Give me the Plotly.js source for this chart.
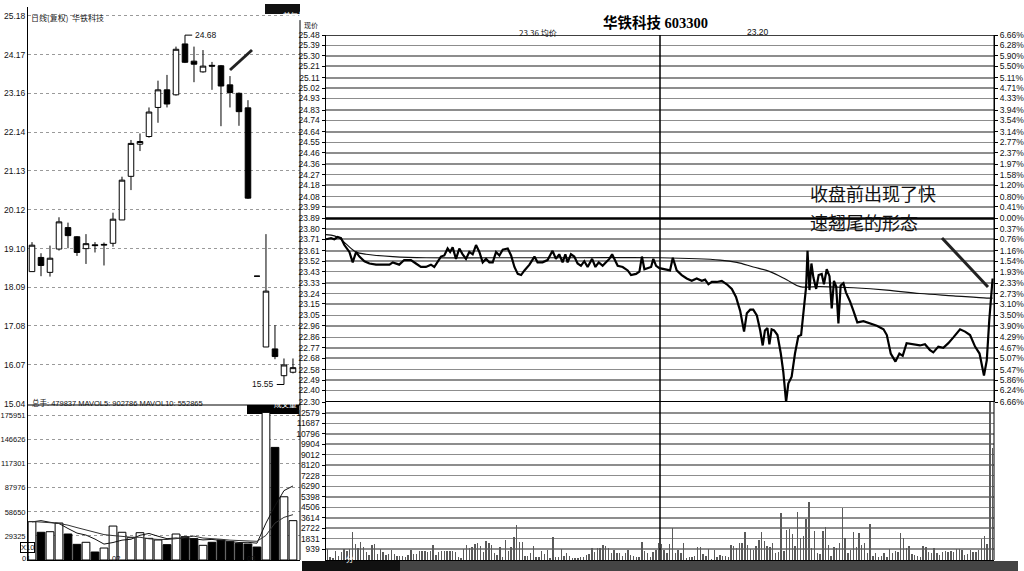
<!DOCTYPE html>
<html><head><meta charset="utf-8">
<script src="https://cdn.plot.ly/plotly-3.0.1.min.js"></script>
<style>html,body{margin:0;padding:0;background:#fff;}#chart{width:1024px;height:571px;}</style>
</head><body><div id="chart"></div>
<script>
// ---------------- Daily candles (left) ----------------
const candleOpen  = [18.50,18.87,18.48,19.09,19.65,19.41,19.10,19.20,19.19,19.24,19.85,20.99,21.83,22.03,22.79,23.25,23.12,24.45,24.00,23.72,23.89,23.88,23.38,23.16,22.78,18.38,16.53,16.48,15.78,15.87];
const candleHigh  = [19.27,18.98,19.18,19.92,19.78,19.43,19.48,19.27,19.26,20.04,20.98,21.94,22.11,22.79,23.49,23.64,24.38,24.68,24.38,24.29,23.98,23.90,23.61,23.18,22.98,18.38,19.48,17.10,16.23,16.23];
const candleLow   = [18.50,18.38,18.37,19.05,19.11,18.91,18.70,19.00,18.66,19.15,19.85,20.63,21.65,22.00,22.39,22.79,23.10,23.95,23.45,23.70,23.25,22.30,22.79,22.31,20.40,18.38,16.53,16.21,15.55,15.84];
const candleClose = [19.19,18.66,18.85,19.80,19.44,19.00,19.23,19.18,19.21,19.87,20.89,21.85,21.90,22.67,23.25,22.88,24.31,23.97,23.92,23.87,23.87,23.35,23.18,22.68,20.42,18.38,17.99,16.28,16.06,15.99];
const candleVol   = [46700,33800,34500,45100,31700,19100,21600,9750,14600,41400,33800,27200,33300,26400,24400,18700,31700,28400,26000,17900,21600,24400,22300,20300,19500,15800,180000,137300,77100,47984];
const mavol5      = [46500,48000,46000,44500,38400,32800,30400,25500,19400,21300,24200,25300,30100,32400,29000,26000,26900,25800,25800,24500,25100,23700,22400,21300,21600,20500,45000,66000,84600,90279];
const mavol10     = [47000,46500,45500,44500,42500,39500,36500,33500,31000,29800,28500,27800,27700,25800,25100,25000,26000,27900,29100,26800,25600,25300,24200,23600,23100,22800,30000,45000,52000,55287];
const dayPriceTicks = [15.04,16.07,17.08,18.09,19.10,20.12,21.13,22.14,23.16,24.17,25.18];
const dayVolTicks   = [29325,58650,87976,117301,146626,175951];
const monthLabels   = ['01','02','03'];
const monthStartIdx = [0,10,25];

// ---------------- Intraday (right) ----------------
const prevClose = 23.89;
const priceTicks = [22.30,22.40,22.49,22.58,22.68,22.77,22.86,22.96,23.05,23.15,23.24,23.33,23.43,23.52,23.61,23.71,23.80,23.89,23.99,24.08,24.18,24.27,24.36,24.46,24.55,24.64,24.74,24.83,24.93,25.02,25.11,25.21,25.30,25.39,25.48];
const pctTicks = ['6.66%','6.24%','5.86%','5.47%','5.07%','4.67%','4.29%','3.90%','3.50%','3.10%','2.73%','2.33%','1.93%','1.54%','1.16%','0.76%','0.37%','0.00%','0.41%','0.80%','1.20%','1.58%','1.97%','2.37%','2.77%','3.14%','3.54%','3.94%','4.33%','4.71%','5.11%','5.50%','5.90%','6.28%','6.66%'];
const minVolTicks = [939,1831,2722,3614,4506,5398,6290,7228,8120,9012,9904,10796,11687,12579];

const intradayMin = [0,1.8,3,4.2,5.4,6.6,8.4,9.6,10.8,12,13.8,15.6,18,20.4,22.8,24,26.3,28.1,30.5,32.3,34.1,35.9,37.7,38.9,40.1,41.3,42.5,43.7,44.6,45.5,46.7,47.9,49.1,50.3,51.5,52.7,53.9,55.1,56.3,57.5,58.7,59.9,61.1,62.3,63.5,65.3,66.5,67.7,68.9,70.1,71.3,73.1,74.9,76,77.8,79.6,81.4,82.6,83.8,85,86,86.8,88,89.2,90.4,91.6,92.8,94,95.6,96.8,98,99.4,100.6,101.8,102.8,103.6,104.8,106.6,108.4,109.6,111.4,112.6,113.5,114.4,115.6,116.8,117.6,118.6,119.8,
121.8,123.6,124.6,126,127.8,129.6,131.4,133.2,135,136.2,137.4,138.6,140.4,142.2,144,145.8,147.3,148.8,150.2,151.2,152.4,153.5,154.8,156,156.9,157.7,158.6,159.3,160.1,161,162.2,163.4,164.3,165.3,166.1,167.3,168.5,169.7,170.7,171.5,172.5,173,173.7,174.4,175.1,176.1,177,178.1,178.9,179.9,180.9,181.7,182.5,183.3,184.1,184.9,185.9,186.8,188.3,189.5,190.9,193.1,195.5,197.9,200.3,201.5,202.9,204.6,206,207.2,208.6,211,213.4,215.2,217,218.2,220,221.8,223.6,225.4,227.8,229.6,231.4,233.2,234.8,236.4,237.4,238.3,239.5];
const intradayPrice = [23.71,23.72,23.71,23.73,23.72,23.66,23.60,23.51,23.60,23.56,23.52,23.50,23.49,23.49,23.49,23.51,23.49,23.53,23.53,23.50,23.47,23.47,23.49,23.47,23.51,23.56,23.57,23.63,23.60,23.64,23.54,23.63,23.58,23.54,23.60,23.58,23.66,23.60,23.51,23.54,23.51,23.51,23.60,23.57,23.62,23.63,23.57,23.47,23.41,23.40,23.44,23.49,23.56,23.51,23.51,23.53,23.61,23.54,23.58,23.51,23.58,23.51,23.58,23.56,23.50,23.48,23.52,23.47,23.54,23.47,23.51,23.48,23.51,23.54,23.58,23.54,23.48,23.47,23.44,23.40,23.41,23.43,23.56,23.45,23.46,23.47,23.54,23.48,23.46,
23.45,23.44,23.55,23.44,23.40,23.37,23.35,23.37,23.35,23.36,23.32,23.34,23.34,23.35,23.32,23.28,23.21,23.09,22.91,23.07,23.10,23.10,23.05,22.92,22.79,22.92,22.94,22.80,22.93,22.92,22.88,22.72,22.56,22.30,22.46,22.52,22.72,22.87,22.88,23.09,23.30,23.61,23.27,23.50,23.38,23.28,23.40,23.41,23.32,23.45,23.39,23.11,23.35,23.30,22.98,23.31,23.33,23.25,23.17,23.09,22.99,23.00,22.98,22.96,22.93,22.88,22.72,22.65,22.72,22.70,22.81,22.80,22.79,22.80,22.75,22.73,22.78,22.77,22.81,22.86,22.93,22.91,22.88,22.78,22.72,22.53,22.66,23.01,23.37];
const avgMin   = [0,3,4.8,7.2,10.8,14.4,24,36,60,90,120,141.6,147.6,153.5,159.5,165.5,170.3,177.5,189.5,201.5,213.4,225.4,237.4,239.5];
const avgPrice = [23.75,23.74,23.72,23.67,23.60,23.58,23.56,23.55,23.55,23.55,23.55,23.53,23.51,23.47,23.43,23.36,23.30,23.30,23.29,23.27,23.24,23.22,23.20,23.20];
const minuteVol = [
942,285,200,770,342,713,913,799,942,2397,1370,1056,1512,1141,685,428,1256,1341,485,942,656,456,542,827,485,342,342,314,285,456,856,542,485,770,742,742,713,770,1256,400,713,742,799,742,799,770,656,228,200,942,1284,999,1113,1370,1484,1227,685,1655,1427,1313,571,456,1113,228,1712,770,1141,1940,2968,1569,1569,342,342,571,1198,257,257,799,514,
856,171,1997,285,285,913,342,628,342,171,143,171,228,285,428,514,999,713,999,999,1284,1198,999,628,856,571,628,342,628,856,428,342,228,285,1541,799,571,285,713,856,1427,
1370,856,628,1370,2711,628,856,571,1427,143,228,285,342,1084,1141,514,342,913,114,856,285,428,342,342,285,1284,1198,999,1427,1484,2368,1284,913,856,1198,1712,2425,1655,1198,1141,1427,628,713,
3995,799,2568,2625,2197,1227,4080,1855,2054,3510,4993,1056,2511,628,514,2511,2853,1256,342,1141,999,1427,4480,1855,628,856,2425,1084,2340,1256,1427,628,3053,342,571,285,342,571,228,913,571,799,713,2340,1855,1056,1227,514,428,342,285,1198,1084,713,571,1056,571,428,713,742,713,799,713,913,913,856,428,514,856,713,713,856,1769,2054,1370,13520,9559];

// ---------------- helpers ----------------
const W = 1024, H = 571;
const px = x => x / W;
const py = y => 1 - y / H;
const dayIdx = candleOpen.map((_, i) => i);
const volColors = candleOpen.map((o, i) => candleClose[i] > o ? '#ffffff' : '#000000');
const minIdx = minuteVol.map((_, i) => i + 0.5);
let hiI = 0, loI = 0;
candleHigh.forEach((v, i) => { if (v > candleHigh[hiI]) hiI = i; });
candleLow.forEach((v, i) => { if (v < candleLow[loI]) loI = i; });

const axFont = {family: 'Liberation Sans, Arial, sans-serif', size: 8.5, color: '#111'};
const narrowFont = {family: 'Liberation Sans Narrow, Liberation Sans, Arial, sans-serif', size: 7.5, color: '#111'};
const cjk = 'Noto Sans CJK SC, sans-serif';

const traces = [
  {type: 'candlestick', x: dayIdx, open: candleOpen, high: candleHigh, low: candleLow, close: candleClose,
   xaxis: 'x', yaxis: 'y', whiskerwidth: 0, hoverinfo: 'skip',
   increasing: {line: {color: '#000', width: 1}, fillcolor: '#ffffff'},
   decreasing: {line: {color: '#000', width: 1}, fillcolor: '#000000'}},
  {type: 'bar', x: dayIdx, y: candleVol, xaxis: 'x2', yaxis: 'y2', width: 0.86,
   marker: {color: volColors, line: {color: '#000', width: 1}}, hoverinfo: 'skip'},
  {type: 'scatter', mode: 'lines', x: dayIdx, y: mavol5, xaxis: 'x2', yaxis: 'y2', line: {color: '#111', width: 1}, hoverinfo: 'skip'},
  {type: 'scatter', mode: 'lines', x: dayIdx, y: mavol10, xaxis: 'x2', yaxis: 'y2', line: {color: '#333', width: 1}, hoverinfo: 'skip'},
  {type: 'scatter', mode: 'lines', x: avgMin, y: avgPrice, xaxis: 'x3', yaxis: 'y3', line: {color: '#111', width: 1.2, shape: 'spline'}, hoverinfo: 'skip'},
  {type: 'scatter', mode: 'lines', x: intradayMin, y: intradayPrice, xaxis: 'x3', yaxis: 'y3', line: {color: '#000', width: 2.2}, hoverinfo: 'skip'},
  {type: 'scatter', mode: 'lines', x: avgMin, y: avgPrice, xaxis: 'x3', yaxis: 'y4', opacity: 0, line: {width: 0}, hoverinfo: 'skip'},
  {type: 'bar', x: minIdx, y: minuteVol, xaxis: 'x4', yaxis: 'y5', width: 0.5,
   marker: {color: '#5a5a5a', line: {width: 0}}, hoverinfo: 'skip'}
];

const gridGray = '#8d8d8d';
const layout = {
  width: W, height: H, margin: {l: 0, r: 0, t: 0, b: 0},
  paper_bgcolor: '#fff', plot_bgcolor: 'rgba(0,0,0,0)', showlegend: false,
  boxgap: 0.12, bargap: 0, hovermode: false,
  font: axFont,
  xaxis: {domain: [px(28), px(300)], range: [-0.444, 29.78], anchor: 'y', showgrid: false, zeroline: false,
          showticklabels: false, ticks: '', rangeslider: {visible: false}},
  yaxis: {domain: [py(405), py(7)], range: [15.014, 25.415], anchor: 'x',
          tickvals: dayPriceTicks, ticktext: dayPriceTicks.map(v => v.toFixed(2)), tickfont: axFont,
          showgrid: true, gridcolor: '#9a9a9a', griddash: 'dot', gridwidth: 1,
          showline: true, linecolor: '#000', linewidth: 1, ticks: '', zeroline: false},
  xaxis2: {domain: [px(28), px(300)], range: [-0.444, 29.78], anchor: 'y2', showgrid: false, zeroline: false,
           showticklabels: false, ticks: '', showline: true, linecolor: '#000', linewidth: 1},
  yaxis2: {domain: [py(560), py(405)], range: [0, 189000], anchor: 'x2',
           tickvals: dayVolTicks, ticktext: dayVolTicks.map(String), tickfont: narrowFont,
           showgrid: true, gridcolor: '#9a9a9a', griddash: 'dot', gridwidth: 1,
           showline: true, linecolor: '#000', linewidth: 1, ticks: '', zeroline: false},
  xaxis3: {domain: [px(326), px(994)], range: [0, 240], anchor: 'y3', showgrid: false, zeroline: false,
           showticklabels: false, ticks: ''},
  yaxis3: {domain: [py(402), py(35)], range: [22.30, 25.48], anchor: 'x3',
           tickvals: priceTicks, ticktext: priceTicks.map(v => v.toFixed(2)), tickfont: axFont,
           showgrid: true, gridcolor: gridGray, gridwidth: 1.6,
           showline: true, linecolor: '#000', linewidth: 1.5, ticks: 'outside', ticklen: 3, tickcolor: '#000', zeroline: false},
  yaxis4: {overlaying: 'y3', side: 'right', anchor: 'x3', range: [22.30, 25.48],
           tickvals: priceTicks, ticktext: pctTicks, tickfont: axFont, showgrid: false,
           showline: true, linecolor: '#000', linewidth: 1, ticks: 'outside', ticklen: 3, tickcolor: '#000', zeroline: false},
  xaxis4: {domain: [px(326), px(994)], range: [0, 240], anchor: 'y5', showgrid: false, zeroline: false,
           showticklabels: false, ticks: '', showline: true, linecolor: '#000', linewidth: 1},
  yaxis5: {domain: [py(560), py(402)], range: [0, 13520], anchor: 'x4',
           tickvals: minVolTicks, ticktext: minVolTicks.map(String), tickfont: axFont,
           showgrid: true, gridcolor: gridGray, gridwidth: 1.6,
           showline: true, linecolor: '#000', linewidth: 1.5, ticks: 'outside', ticklen: 3, tickcolor: '#000', zeroline: false},
  shapes: [
    {type: 'line', xref: 'paper', yref: 'paper', x0: px(300), x1: px(300), y0: py(20), y1: py(560), line: {color: '#000', width: 1}},
    {type: 'line', xref: 'paper', yref: 'paper', x0: px(28), x1: px(300), y0: py(405), y1: py(405), line: {color: '#000', width: 1}},
    {type: 'rect', layer: 'below', xref: 'paper', yref: 'paper', x0: px(247), x1: px(299), y0: py(414), y1: py(405), fillcolor: '#000', line: {width: 0}},
    {type: 'rect', layer: 'below', xref: 'paper', yref: 'paper', x0: px(265), x1: px(300), y0: py(14), y1: py(4), fillcolor: '#111', line: {width: 0}},
    {type: 'line', xref: 'x3', yref: 'paper', x0: 120, x1: 120, y0: py(560), y1: py(35), line: {color: '#000', width: 1.5}},
    {type: 'line', xref: 'paper', yref: 'y3', x0: px(326), x1: px(994), y0: prevClose, y1: prevClose, line: {color: '#000', width: 2.5}},
    {type: 'line', xref: 'paper', yref: 'y3', x0: px(326), x1: px(994), y0: 22.30, y1: 22.30, line: {color: '#000', width: 2}},
    {type: 'line', xref: 'paper', yref: 'y3', x0: px(326), x1: px(994), y0: 25.48, y1: 25.48, line: {color: '#000', width: 1.5}},
    {type: 'line', xref: 'paper', yref: 'paper', x0: px(994), x1: px(994), y0: py(35), y1: py(560), line: {color: '#000', width: 1}},
    {type: 'rect', xref: 'paper', yref: 'paper', x0: px(302), x1: px(1018), y0: py(571), y1: py(561), fillcolor: '#444', line: {width: 0}},
    {type: 'rect', xref: 'paper', yref: 'paper', x0: px(302), x1: px(400), y0: py(571), y1: py(561), fillcolor: '#111', line: {width: 0}},
    {type: 'line', xref: 'paper', yref: 'paper', x0: px(942), x1: px(988), y0: py(238), y1: py(287), line: {color: '#222', width: 3}},
    {type: 'line', xref: 'paper', yref: 'paper', x0: px(252), x1: px(230), y0: py(50), y1: py(70), line: {color: '#222', width: 3}},
    {type: 'line', xref: 'x', yref: 'y', x0: hiI, x1: hiI + 0.8, y0: candleHigh[hiI], y1: candleHigh[hiI], line: {color: '#000', width: 1}},
    {type: 'line', xref: 'x', yref: 'y', x0: loI - 0.8, x1: loI, y0: candleLow[loI], y1: candleLow[loI], line: {color: '#000', width: 1}}
  ],
  annotations: [
    {xref: 'paper', yref: 'paper', x: px(655), y: py(12), text: '<b>华铁科技 603300</b>', showarrow: false,
     font: {family: 'Liberation Serif, ' + cjk, size: 14.5, color: '#000'}},
    {xref: 'paper', yref: 'paper', x: px(303), y: py(25), xanchor: 'left', yanchor: 'middle', text: '现价', showarrow: false, borderpad: 0, font: {family: cjk, size: 7, color: '#111'}},
    {xref: 'paper', yref: 'paper', x: px(538), y: py(25), text: '23.36 均价', showarrow: false, font: {family: cjk, size: 8, color: '#111'}},
    {xref: 'paper', yref: 'paper', x: px(771), y: py(25), text: '23.20', showarrow: false, font: axFont},
    {xref: 'paper', yref: 'paper', x: px(808), y: py(193), xanchor: 'left', text: '收盘前出现了快', showarrow: false, font: {family: cjk, size: 18, color: '#111'}},
    {xref: 'paper', yref: 'paper', x: px(808), y: py(222), xanchor: 'left', text: '速翘尾的形态', showarrow: false, font: {family: cjk, size: 18, color: '#111'}},
    {xref: 'paper', yref: 'paper', x: px(29), y: py(10), xanchor: 'left', text: '日线(复权)  华铁科技', showarrow: false, font: {family: cjk, size: 8, color: '#222'}},
    {xref: 'paper', yref: 'paper', x: px(282), y: py(9), text: '前复权', showarrow: false, borderpad: 0, font: {family: cjk, size: 7.5, color: '#fff'}},
    {xref: 'paper', yref: 'paper', x: px(30), y: py(409.5), xanchor: 'left', text: '总手: 479837 MAVOL5: 902786 MAVOL10: 552865', showarrow: false, font: {family: 'Liberation Sans, ' + cjk, size: 7.5, color: '#111'}},
    {xref: 'paper', yref: 'paper', x: px(273), y: py(409.5), text: '成交量', showarrow: false, borderpad: 0, font: {family: cjk, size: 7.5, color: '#fff'}},
    {xref: 'paper', yref: 'paper', x: px(20), y: py(553), text: 'X10', showarrow: false, bordercolor: '#000', borderwidth: 1, borderpad: 0, font: {family: 'Liberation Sans, Arial', size: 7.5, color: '#111'}},
    {xref: 'paper', yref: 'paper', x: px(350), y: py(566), text: '分', showarrow: false, font: {family: cjk, size: 7.5, color: '#fff'}},
    {xref: 'x', yref: 'y', x: hiI + 0.85, y: candleHigh[hiI], xanchor: 'left', text: candleHigh[hiI].toFixed(2), showarrow: false, font: axFont},
    {xref: 'x', yref: 'y', x: loI - 0.85, y: candleLow[loI], xanchor: 'right', text: candleLow[loI].toFixed(2), showarrow: false, font: axFont}
  ].concat(monthLabels.map((m, i) => ({
    xref: 'x2', yref: 'paper', x: monthStartIdx[i], y: py(565), xanchor: 'right', text: m, showarrow: false, font: narrowFont
  })))
};

Plotly.newPlot('chart', traces, layout, {displayModeBar: false, staticPlot: true});
</script></body></html>
